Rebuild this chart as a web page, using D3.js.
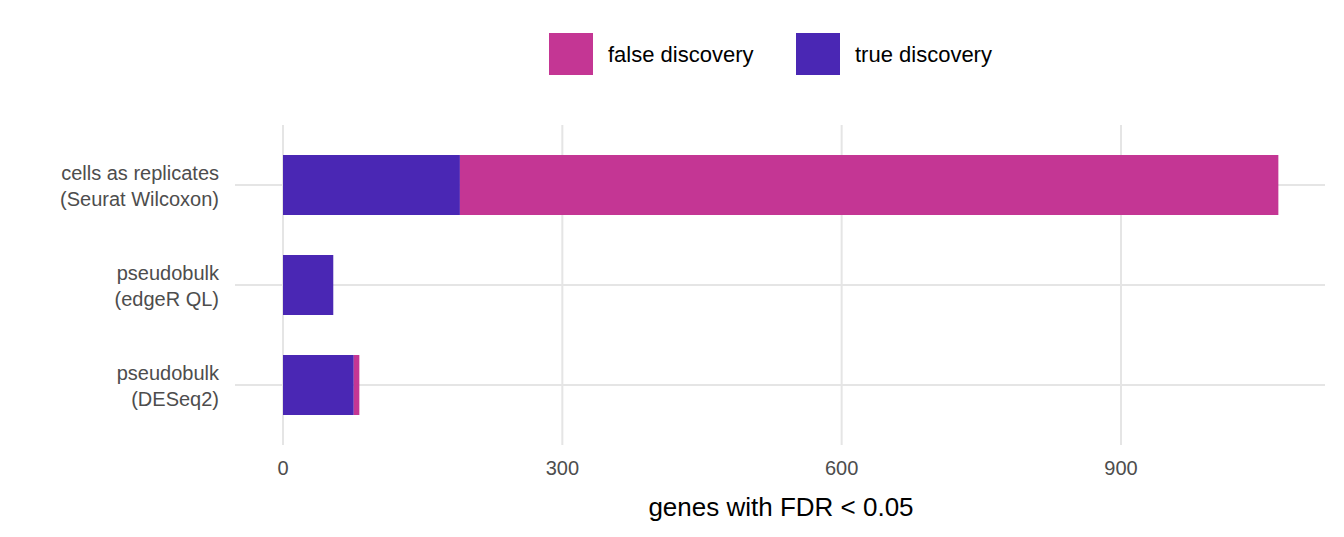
<!DOCTYPE html>
<html><head><meta charset="utf-8">
<script src="https://cdn.jsdelivr.net/npm/d3@7"></script>
<style>body{margin:0;background:#fff}text{font-family:"Liberation Sans",Arial,sans-serif}</style>
</head><body><svg id="chart" width="1344" height="537"></svg>
<script>
// data
var methods = [["cells as replicates", "(Seurat Wilcoxon)"], ["pseudobulk", "(edgeR QL)"], ["pseudobulk", "(DESeq2)"]];
var trueDisc = [190, 54, 76];
var falseDisc = [879, 0, 6];
var ticks = [0, 300, 600, 900];
var colors = {t: "#4A27B4", f: "#C43694"};

var svg = d3.select("#chart");
var x = d3.scaleLinear().domain([0, 900]).range([283, 1121]);
var y = d3.scaleBand().domain(d3.range(methods.length)).range([135, 435]).paddingInner(0.4).paddingOuter(0.2);

// grid
svg.selectAll(".vg").data(ticks).enter().append("line")
  .attr("x1", d => x(d)).attr("x2", d => x(d)).attr("y1", 125).attr("y2", 445)
  .attr("stroke", "#e5e5e5").attr("stroke-width", 2);
svg.selectAll(".hg").data(d3.range(methods.length)).enter().append("line")
  .attr("x1", 235).attr("x2", 1325)
  .attr("y1", d => y(d) + y.bandwidth() / 2).attr("y2", d => y(d) + y.bandwidth() / 2)
  .attr("stroke", "#e5e5e5").attr("stroke-width", 2);

// bars
svg.selectAll(".bt").data(trueDisc).enter().append("rect")
  .attr("x", x(0)).attr("y", (d, i) => y(i)).attr("height", y.bandwidth())
  .attr("width", d => x(d) - x(0)).attr("fill", colors.t);
svg.selectAll(".bf").data(falseDisc).enter().append("rect")
  .attr("x", (d, i) => x(trueDisc[i])).attr("y", (d, i) => y(i)).attr("height", y.bandwidth())
  .attr("width", (d, i) => x(trueDisc[i] + d) - x(trueDisc[i])).attr("fill", colors.f);

// x tick labels
svg.selectAll(".xt").data(ticks).enter().append("text")
  .attr("x", d => x(d)).attr("y", 475).attr("text-anchor", "middle")
  .attr("font-size", 20).attr("fill", "#4d4d4d").text(d => d);

// y labels
methods.forEach(function (m, i) {
  var cy = y(i) + y.bandwidth() / 2;
  m.forEach(function (line, j) {
    svg.append("text").attr("x", 219).attr("y", cy - 5 + j * 26).attr("text-anchor", "end")
      .attr("font-size", 20).attr("fill", "#4d4d4d").text(line);
  });
});

svg.append("text").attr("x", 781).attr("y", 516).attr("text-anchor", "middle")
  .attr("font-size", 26).attr("fill", "#000").text("genes with FDR < 0.05");

// legend
var leg = [["false discovery", colors.f, 549], ["true discovery", colors.t, 796]];
leg.forEach(function (l) {
  svg.append("rect").attr("x", l[2]).attr("y", 33).attr("width", 44).attr("height", 42).attr("fill", l[1]);
  svg.append("text").attr("x", l[2] + 59).attr("y", 62).attr("font-size", 22).attr("fill", "#000").text(l[0]);
});
</script></body></html>
